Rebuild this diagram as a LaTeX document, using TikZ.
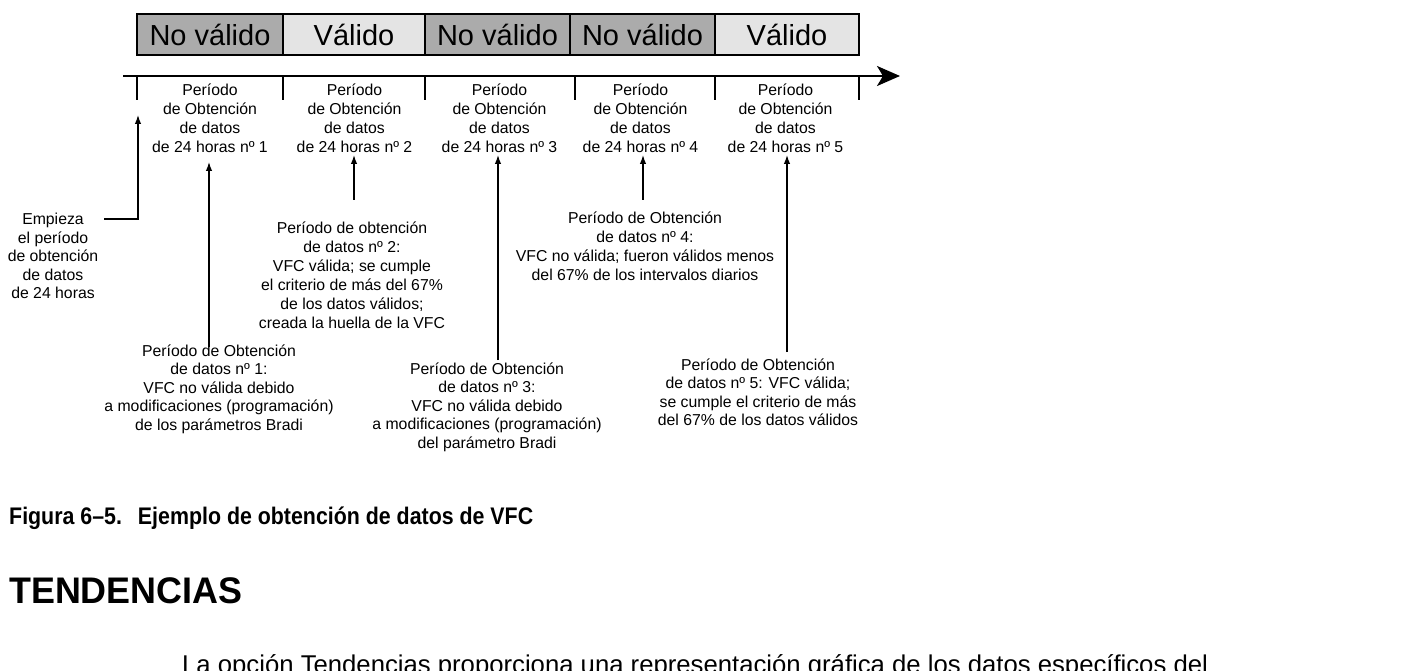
\documentclass[tikz,border=0pt]{standalone}
\usepackage{fontspec}
\setmainfont{Liberation Sans}
\usetikzlibrary{arrows.meta}
\definecolor{nogray}{HTML}{ABABAB}
\definecolor{sigray}{HTML}{E4E4E4}
\begin{document}
\begin{tikzpicture}[x=1pt,y=-1pt,
  hbox/.style={draw, line width=2pt, inner sep=0pt, minimum height=41pt,
    font=\fontsize{29}{32}\selectfont},
  nobox/.style={hbox, fill=nogray},
  sibox/.style={hbox, fill=sigray},
  lab/.style={align=center, inner sep=0pt, font=\fontsize{15.8}{19}\selectfont},
  labs/.style={align=center, inner sep=0pt, font=\fontsize{15.8}{18.5}\selectfont},
  arr/.style={line width=1.3pt, -{Latex[length=9pt,width=6.5pt]}},
  axisline/.style={line width=2.2pt, -{Stealth[length=23pt,width=20pt,inset=6pt]}},
  tickline/.style={line width=2pt}]
\useasboundingbox (0,0) rectangle (1411,671);
\clip (0,0) rectangle (1411,671);

% validity boxes
\node[nobox, minimum width=146pt] (b1) at (210,34.5) {No válido};
\node[sibox, minimum width=142pt] (b2) at (354,34.5) {Válido};
\node[nobox, minimum width=145pt] (b3) at (497.5,34.5) {No válido};
\node[nobox, minimum width=145pt] (b4) at (642.5,34.5) {No válido};
\node[sibox, minimum width=144pt] (b5) at (787,34.5) {Válido};

% time axis
\coordinate (ax0) at (123,76);
\coordinate (ax1) at (900,76);
\draw[axisline] (ax0) -- (ax1);
\foreach \x in {137,283,425,575,715,859}
  \draw[tickline] (\x,76) -- (\x,100);

% periods
\node[lab] (p1) at (210,118) {Período\\de Obtención\\de datos\\de 24 horas nº 1};
\node[lab] (p2) at (354.5,118) {Período\\de Obtención\\de datos\\de 24 horas nº 2};
\node[lab] (p3) at (499.5,118) {Período\\de Obtención\\de datos\\de 24 horas nº 3};
\node[lab] (p4) at (640.5,118) {Período\\de Obtención\\de datos\\de 24 horas nº 4};
\node[lab] (p5) at (785.5,118) {Período\\de Obtención\\de datos\\de 24 horas nº 5};

% explanations
\node[labs] (l0) at (53,256) {Empieza\\el período\\de obtención\\de datos\\de 24 horas};
\node[labs] (l1) at (219,389) {Período de Obtención\\de datos nº 1:\\VFC no válida debido\\a modificaciones (programación)\\de los parámetros Bradi};
\node[lab] (l2) at (352,275.5) {Período de obtención\\de datos nº 2:\\VFC válida; se cumple\\el criterio de más del 67\%\\de los datos válidos;\\creada la huella de la VFC};
\node[labs] (l3) at (487,407) {Período de Obtención\\de datos nº 3:\\VFC no válida debido\\a modificaciones (programación)\\del parámetro Bradi};
\node[lab] (l4) at (645,246.5) {Período de Obtención\\de datos nº 4:\\VFC no válida; fueron válidos menos\\del 67\% de los intervalos diarios};
\node[labs] (l5) at (758,392.5) {Período de Obtención\\de datos nº 5: VFC válida;\\se cumple el criterio de más\\del 67\% de los datos válidos};

% connectors
\coordinate (e0) at (104,219);
\coordinate (t0) at (138,115);
\draw[arr] (e0) -| (t0);
\coordinate (s1) at (209,347);  \coordinate (t1) at (209,162);
\coordinate (s2) at (354,200);  \coordinate (t2) at (354,155);
\coordinate (s3) at (498,360);  \coordinate (t3) at (498,155);
\coordinate (s4) at (643,200);  \coordinate (t4) at (643,155);
\coordinate (s5) at (787,352);  \coordinate (t5) at (787,155);
\draw[arr] (s1) -- (t1);
\draw[arr] (s2) -- (t2);
\draw[arr] (s3) -- (t3);
\draw[arr] (s4) -- (t4);
\draw[arr] (s5) -- (t5);

% caption and following text
\node[anchor=west, inner sep=0pt, font=\bfseries\fontsize{24}{28}\selectfont] (cap) at (9,518)
  {\scalebox{0.89}[1]{Figura 6–5.\hspace{18pt}Ejemplo de obtención de datos de VFC}};
\node[anchor=west, inner sep=0pt, font=\bfseries\fontsize{37}{42}\selectfont] (head) at (9,591)
  {\scalebox{0.97}[1]{TENDENCIAS}};
\node[anchor=base west, inner sep=0pt, font=\fontsize{25.7}{30}\selectfont] (body) at (182,673)
  {La opción Tendencias proporciona una representación gráfica de los datos específicos del};
\end{tikzpicture}
\end{document}
